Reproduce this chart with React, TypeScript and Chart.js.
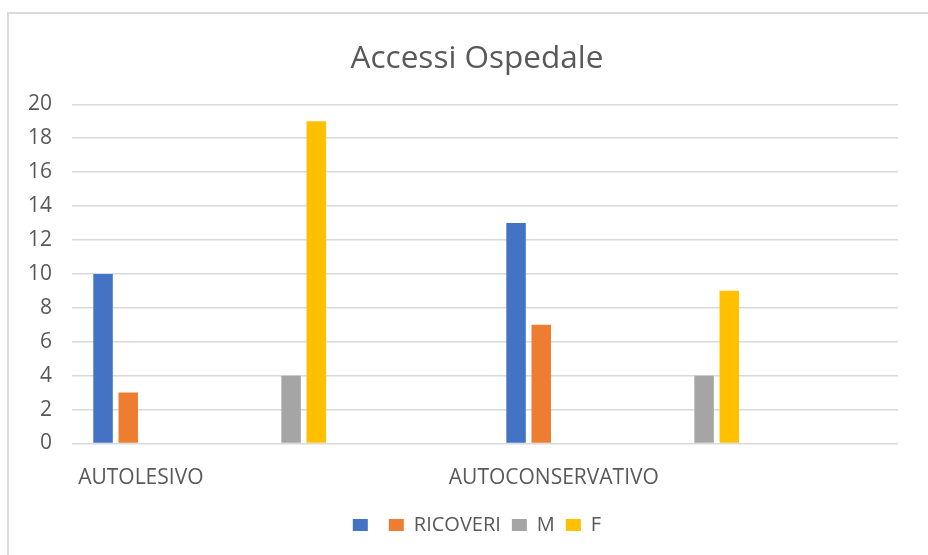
import React, { useEffect, useRef } from "react";
import { Chart, registerables } from "chart.js";

Chart.register(...registerables);

const TITLE = "Accessi Ospedale";
const CATEGORIES = ["AUTOLESIVO", "", "", "AUTOCONSERVATIVO", "", ""];
const SERIES_NAMES = ["", "RICOVERI", "M", "F"];
const SERIES_COLORS = ["#4472C4", "#ED7D31", "#A5A5A5", "#FFC000"];
const BLUE_VALUES = [10, null, null, 13, null, null];
const RICOVERI_VALUES = [3, null, null, 7, null, null];
const M_VALUES = [null, 4, null, null, 4, null];
const F_VALUES = [null, 19, null, null, 9, null];
const Y_MIN = 0;
const Y_MAX = 20;
const Y_STEP = 2;

const FONT = "'Open Sans', 'Noto Sans', sans-serif";
const TEXT = "#595959";
const GRID = "#d9d9d9";

export default function App() {
  const ref = useRef<HTMLCanvasElement | null>(null);

  useEffect(() => {
    if (!ref.current) return;
    const values = [BLUE_VALUES, RICOVERI_VALUES, M_VALUES, F_VALUES];
    const chart = new Chart(ref.current, {
      type: "bar",
      data: {
        labels: CATEGORIES,
        datasets: SERIES_NAMES.map((name, i) => ({
          label: name,
          data: values[i],
          backgroundColor: SERIES_COLORS[i],
          borderWidth: 0,
          categoryPercentage: 0.732,
          barPercentage: 0.774,
          yAxisID: "y",
        })),
      },
      options: {
        animation: false,
        responsive: false,
        devicePixelRatio: 1,
        layout: { padding: { top: 0, left: 26, right: 0, bottom: 10 } },
        plugins: {
          tooltip: { enabled: false },
          title: {
            display: true,
            text: TITLE,
            color: TEXT,
            font: { family: FONT, size: 31.5, weight: "normal" },
            padding: { top: 40, bottom: 26.5 },
          },
          legend: {
            position: "bottom",
            labels: {
              color: TEXT,
              font: { family: FONT, size: 20 },
              boxWidth: 15,
              boxHeight: 12,
              padding: 11,
            },
          },
        },
        scales: {
          x: {
            grid: { display: false, drawTicks: false },
            border: { display: false },
            ticks: {
              color: TEXT,
              font: { family: FONT, size: 21 },
              padding: 22,
              autoSkip: false,
              maxRotation: 0,
              minRotation: 0,
            },
            afterFit: (scale: any) => {
              scale.height = 60.5;
            },
          },
          y: {
            position: "left",
            min: Y_MIN,
            max: Y_MAX,
            grid: { color: GRID, lineWidth: 1.5, drawTicks: false },
            border: { display: false },
            ticks: {
              stepSize: Y_STEP,
              color: TEXT,
              font: { family: FONT, size: 21 },
              padding: 20,
            },
            afterFit: (scale: any) => {
              scale.width = 46;
            },
          },
          yRight: {
            position: "right",
            display: true,
            grid: { display: false, drawTicks: false },
            border: { display: false },
            ticks: { display: false },
            afterFit: (scale: any) => {
              scale.width = 30;
            },
          },
        },
      },
    });
    return () => chart.destroy();
  }, []);

  return (
    <div
      style={{
        position: "fixed",
        left: 0,
        top: 0,
        width: 928,
        height: 555,
        overflow: "hidden",
        background: "#ffffff",
      }}
    >
      <div
        style={{
          position: "absolute",
          left: 7,
          top: 12,
          width: 1000,
          height: 1000,
          borderTop: "2px solid #dadada",
          borderLeft: "2px solid #dadada",
        }}
      />
      <canvas
        ref={ref}
        width={928}
        height={555}
        style={{ position: "absolute", left: 0, top: 0, width: 928, height: 555 }}
      />
    </div>
  );
}
